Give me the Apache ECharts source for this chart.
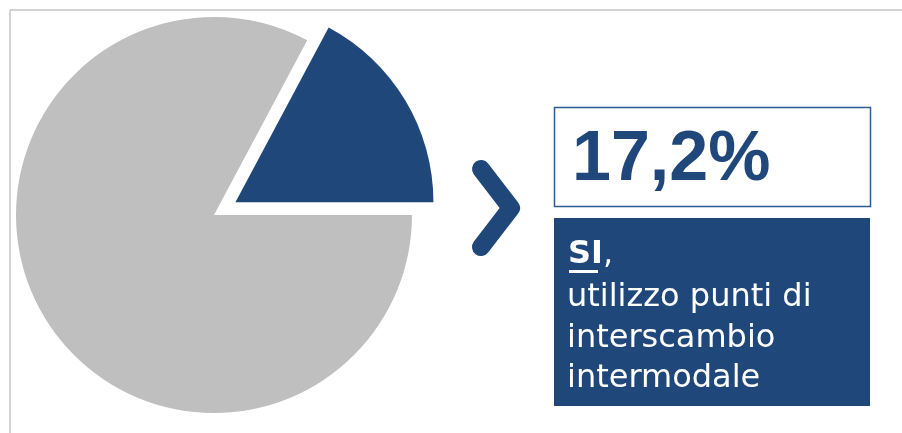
<!DOCTYPE html>
<html>
<head>
<meta charset="utf-8">
<title>Punti di interscambio</title>
<style>
  html, body { margin: 0; padding: 0; background: #fff; }
  #main { width: 902px; height: 433px; }
</style>
<script src="https://cdn.jsdelivr.net/npm/echarts@6/dist/echarts.min.js"></script>
</head>
<body>
<div id="main"></div>
<script>
var categories = ['SI', 'NO'];
var values = [17.2, 82.8];
var colors = ['#1f477a', '#bfbfbf'];
var bigLabel = '17,2%';
var boxLines = ['utilizzo punti di', 'interscambio', 'intermodale'];

var total = values[0] + values[1];
var chart = echarts.init(document.getElementById('main'));

var pieData = categories.map(function (c, i) {
  return {
    name: c,
    value: values[i],
    selected: i === 0,
    itemStyle: { color: colors[i] }
  };
});

var blue = colors[0];
var graphics = [
  // frame lines
  { type: 'line', shape: { x1: 10, y1: 10, x2: 902, y2: 10 }, style: { stroke: '#c4c4c4', lineWidth: 1.5 } },
  { type: 'line', shape: { x1: 10, y1: 10, x2: 10, y2: 433 }, style: { stroke: '#c4c4c4', lineWidth: 1.5 } },
  // chevron
  {
    type: 'polyline',
    shape: { points: [[481, 169], [511, 208], [481, 247]] },
    style: { stroke: blue, lineWidth: 18, lineCap: 'round', lineJoin: 'round', fill: null }
  },
  // percentage box
  { type: 'rect', shape: { x: 554.5, y: 107.5, width: 316, height: 99 }, style: { fill: '#fff', stroke: '#2d5b92', lineWidth: 1.5 } },
  {
    type: 'text', left: 572, top: 126,
    style: { text: bigLabel, fill: blue, font: 'bold 70px "Liberation Sans", Arial, sans-serif' }
  },
  // description box
  { type: 'rect', shape: { x: 554, y: 218, width: 316, height: 188 }, style: { fill: blue } },
  {
    type: 'text', left: 568, top: 239,
    style: {
      text: '{b|' + categories[0] + '},',
      fill: '#fff',
      font: '32px "DejaVu Sans", sans-serif',
      rich: { b: { fill: '#fff', font: 'bold 32px "DejaVu Sans", sans-serif' } }
    }
  },
  { type: 'rect', shape: { x: 569, y: 270, width: 29, height: 3 }, style: { fill: '#fff' } }
];

boxLines.forEach(function (t, i) {
  graphics.push({
    type: 'text', left: 567, top: 282 + i * 40.5,
    style: { text: t, fill: '#fff', font: '32px "DejaVu Sans", sans-serif' }
  });
});

chart.setOption({
  animation: false,
  series: [{
    type: 'pie',
    center: [214, 215],
    radius: 198,
    startAngle: values[0] / total * 360,
    clockwise: true,
    selectedMode: 'single',
    selectedOffset: 25,
    silent: true,
    label: { show: false },
    labelLine: { show: false },
    itemStyle: { borderWidth: 0 },
    emphasis: { disabled: true },
    data: pieData
  }],
  graphic: graphics
});
</script>
</body>
</html>
